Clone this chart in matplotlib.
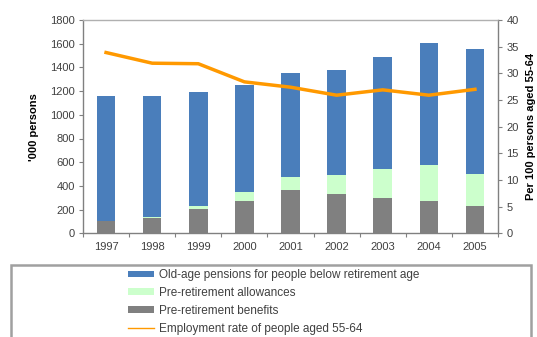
import matplotlib
matplotlib.use("Agg")
import matplotlib.pyplot as plt
from matplotlib.patches import Rectangle, Patch
from matplotlib.lines import Line2D
import numpy as np

years = ["1997", "1998", "1999", "2000", "2001", "2002", "2003", "2004", "2005"]
benefits = [102, 132, 202, 272, 365, 332, 300, 272, 230]
allowances = [0, 8, 31, 76, 110, 158, 240, 304, 273]
old_age = [1058, 1021, 962, 901, 880, 891, 948, 1027, 1050]
employment_rate = [33.9, 31.9, 31.8, 28.4, 27.4, 25.9, 26.9, 25.9, 27.0]

c_blue = "#4a7ebb"
c_green = "#ccffcc"
c_gray = "#808080"
c_orange = "#ff9900"
c_text = "#404040"

plt.rcParams["font.family"] = ["Liberation Sans", "DejaVu Sans"]
plt.rcParams["font.size"] = 8

fig = plt.figure(figsize=(5.37, 3.37), dpi=100)
ax = fig.add_axes([83 / 537, 1 - 233.3 / 337, (498 - 83) / 537, (233.3 - 20) / 337])

x = np.arange(len(years))
w = 0.4
b1 = np.array(benefits)
b2 = b1 + np.array(allowances)
ax.bar(x, benefits, w, color=c_gray, zorder=2)
ax.bar(x, allowances, w, bottom=b1, color=c_green, zorder=2)
ax.bar(x, old_age, w, bottom=b2, color=c_blue, zorder=2)

ax.set_xlim(-0.5, len(years) - 0.5)
ax.set_ylim(0, 1800)
ax.set_yticks(np.arange(0, 1801, 200))
ax.set_xticks(np.arange(-0.5, len(years), 1.0))
ax.set_xticklabels([])
ax.set_xticks(x, minor=True)
ax.set_xticklabels(years, minor=True)
ax.tick_params(axis="x", which="minor", length=0, pad=6, colors=c_text)
ax.tick_params(axis="x", which="major", length=3, direction="out", color="#808080")
ax.tick_params(axis="y", length=3, direction="out", color="#808080", labelcolor=c_text, pad=3)
ax.set_ylabel("'000 persons", fontweight="bold", color="black", labelpad=8)

for side in ["left", "bottom", "right"]:
    ax.spines[side].set_color("#808080")
    ax.spines[side].set_linewidth(1.0)
ax.spines["top"].set_color("#b0b0b0")
ax.spines["top"].set_linewidth(1.0)

ax2 = ax.twinx()
ax2.plot(x, employment_rate, color=c_orange, lw=2.5, zorder=3)
ax2.set_ylim(0, 40)
ax2.set_yticks(np.arange(0, 41, 5))
ax2.tick_params(axis="y", length=3, direction="out", color="#808080", labelcolor=c_text, pad=3)
ax2.set_ylabel("Per 100 persons aged 55-64", fontweight="bold", color="black", labelpad=5)
for side in ["left", "bottom", "right", "top"]:
    ax2.spines[side].set_visible(False)

# legend frame below the chart
fig.patches.append(Rectangle((11 / 537, -0.05), (531 - 11) / 537, 1 - 265 / 337 + 0.05,
                             transform=fig.transFigure, fill=False,
                             edgecolor="#a0a0a0", lw=1.8))

handles = [
    Patch(facecolor=c_blue, edgecolor="none"),
    Patch(facecolor=c_green, edgecolor="none"),
    Patch(facecolor=c_gray, edgecolor="none"),
    Line2D([0], [0], color=c_orange, lw=1),
]
labels = [
    "Old-age pensions for people below retirement age",
    "Pre-retirement allowances",
    "Pre-retirement benefits",
    "Employment rate of people aged 55-64",
]
leg = fig.legend(handles, labels, loc="upper left",
                 bbox_to_anchor=(121 / 537, 1 - 262 / 337),
                 frameon=False, fontsize=8.5, handlelength=2.2, handleheight=0.5,
                 handletextpad=0.4, labelspacing=0.5, borderpad=0.1)
for t in leg.get_texts():
    t.set_color(c_text)

fig.savefig("out.png", dpi=100)
